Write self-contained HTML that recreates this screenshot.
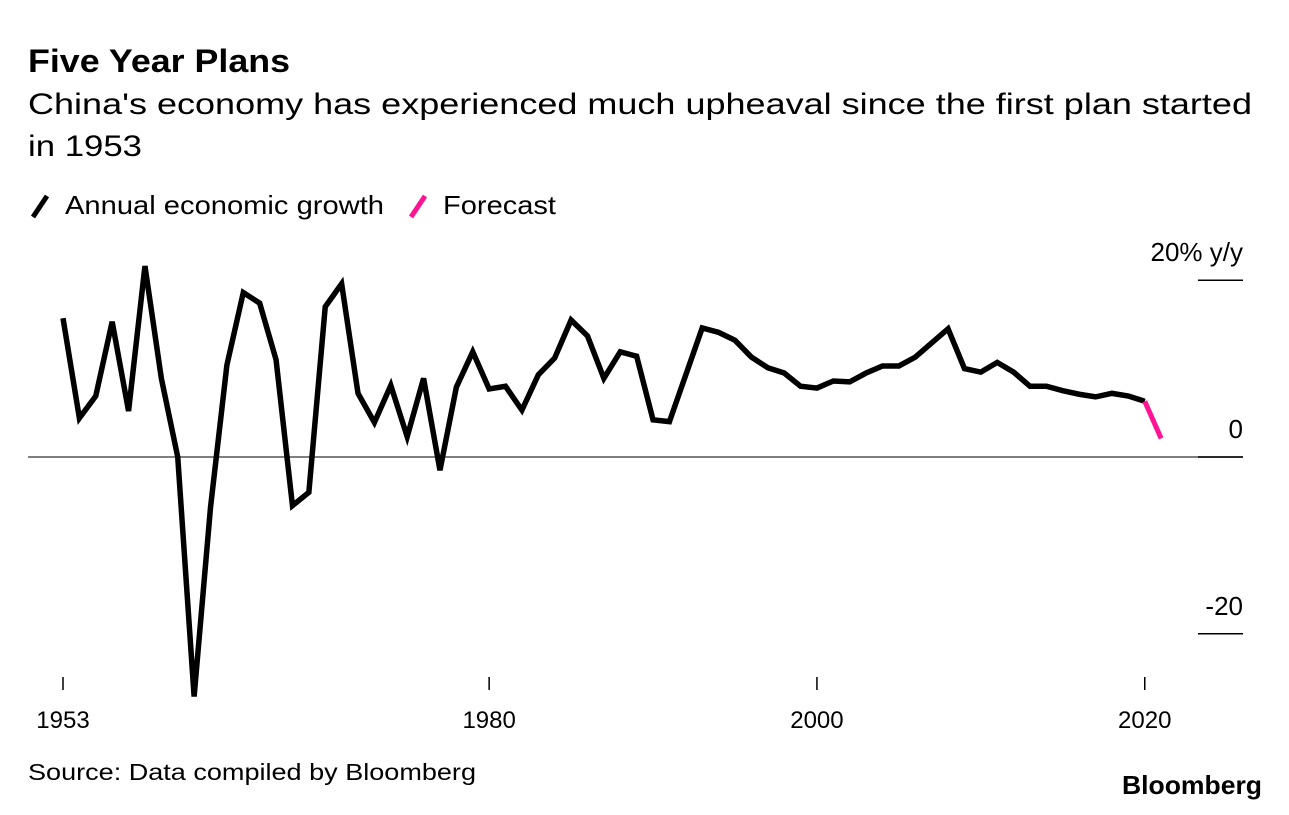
<!DOCTYPE html>
<html><head><meta charset="utf-8"><style>
body{margin:0;background:#fff;width:1289px;height:810px;overflow:hidden;font-family:"Liberation Sans",sans-serif;}
</style></head><body>
<svg width="1289" height="810" font-family="Liberation Sans, sans-serif">
<text x="28" y="72" font-size="32" font-weight="bold" fill="#000" textLength="262" lengthAdjust="spacingAndGlyphs">Five Year Plans</text>
<text x="28" y="114" font-size="30" fill="#000" textLength="1224" lengthAdjust="spacingAndGlyphs">China's economy has experienced much upheaval since the first plan started</text>
<text x="28" y="156" font-size="30" fill="#000" textLength="114" lengthAdjust="spacingAndGlyphs">in 1953</text>
<g>
<line x1="33" y1="217" x2="47" y2="196" stroke="#000" stroke-width="5"/>
<text x="65" y="214" font-size="26" fill="#000" textLength="319" lengthAdjust="spacingAndGlyphs">Annual economic growth</text></g>
<g>
<line x1="411" y1="217" x2="425" y2="196" stroke="#ff1493" stroke-width="5"/>
<text x="443" y="214" font-size="26" fill="#000" textLength="113" lengthAdjust="spacingAndGlyphs">Forecast</text></g>
<g id="axes"></g>
<g id="marks"></g>
<text x="28" y="780" font-size="23" fill="#000" textLength="448" lengthAdjust="spacingAndGlyphs">Source: Data compiled by Bloomberg</text>
<text x="1262" y="794" font-size="26" font-weight="bold" text-anchor="end" fill="#000" textLength="140" lengthAdjust="spacingAndGlyphs">Bloomberg</text>
</svg>
<script>
const years=[1953,1954,1955,1956,1957,1958,1959,1960,1961,1962,1963,1964,1965,1966,1967,1968,1969,1970,1971,1972,1973,1974,1975,1976,1977,1978,1979,1980,1981,1982,1983,1984,1985,1986,1987,1988,1989,1990,1991,1992,1993,1994,1995,1996,1997,1998,1999,2000,2001,2002,2003,2004,2005,2006,2007,2008,2009,2010,2011,2012,2013,2014,2015,2016,2017,2018,2019];
const growth=[15.7,4.4,6.9,15.3,5.2,21.6,8.9,0,-27.1,-5.7,10.4,18.6,17.4,11.0,-5.5,-4.0,17.0,19.6,7.2,3.9,8.1,2.3,8.9,-1.5,7.9,11.9,7.7,8.0,5.3,9.3,11.2,15.5,13.7,8.9,11.9,11.4,4.2,4.0,9.3,14.6,14.1,13.2,11.3,10.1,9.5,8.0,7.8,8.6,8.5,9.5,10.3,10.3,11.3,12.9,14.5,10.0,9.6,10.7,9.6,8.0,8.0,7.5,7.1,6.8,7.2,6.9,6.3];
const forecastYears=[2019,2020];
const forecast=[6.3,2.1];
const xTickPos=[1953,1979,1999,2019];
const xTickLabels=["1953","1980","2000","2020"];
const yTicks=[20,0,-20];
const yTickLabels=["20% y/y","0","-20"];
const NS="http://www.w3.org/2000/svg";
const x=y=>63+(y-1953)*16.39;
const yS=v=>457-v*8.84;
function mk(tag,attrs,parent){const e=document.createElementNS(NS,tag);for(const k in attrs)e.setAttribute(k,attrs[k]);parent.appendChild(e);return e;}
const axes=document.getElementById('axes'),marks=document.getElementById('marks');
let zl=mk('line',{x1:28,x2:1243,y1:yS(0),y2:yS(0),stroke:'#555','stroke-width':1.5},axes);


yTicks.forEach((v,i)=>{
 let l=mk('line',{x1:1198,x2:1243,y1:yS(v),y2:yS(v),stroke:'#000','stroke-width':1.5},axes);
 
 
 let t=mk('text',{x:1243,y:yS(v)-19,'font-size':26,'text-anchor':'end',fill:'#000'},axes);
 t.textContent=yTickLabels[i];
 
 
});
xTickPos.forEach((v,i)=>{
 let l=mk('line',{x1:x(v),x2:x(v),y1:677,y2:690,stroke:'#000','stroke-width':1.5},axes);
 
 
 let t=mk('text',{x:x(v),y:728,'font-size':24,'text-anchor':'middle',fill:'#000'},axes);
 t.textContent=xTickLabels[i];
 
 
});
let p=mk('polyline',{points:years.map((yr,i)=>x(yr)+','+yS(growth[i])).join(' '),fill:'none',stroke:'#000','stroke-width':5.5,'stroke-linejoin':'miter','stroke-miterlimit':4},marks);


let f=mk('polyline',{points:forecastYears.map((yr,i)=>x(yr)+','+yS(forecast[i])).join(' '),fill:'none',stroke:'#ff1493','stroke-width':5},marks);


</script>
</body></html>
